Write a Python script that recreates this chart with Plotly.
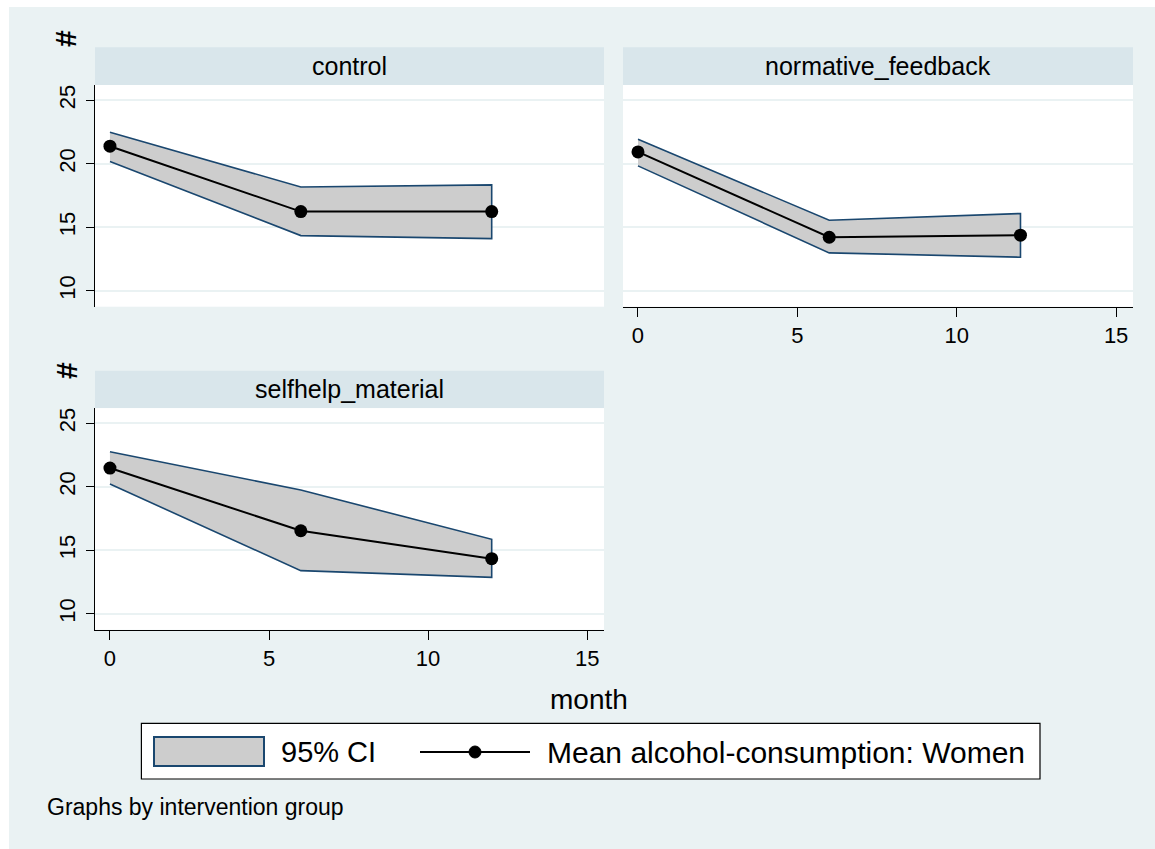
import plotly.graph_objects as go

W, H = 1155, 849

# ---- data ----
months = [0, 6, 12]
groups = ["control", "normative_feedback", "selfhelp_material"]
mean_control = [21.38, 16.23, 16.23]
upper_control = [22.48, 18.17, 18.33]
lower_control = [20.17, 14.34, 14.10]
mean_feedback = [20.93, 14.21, 14.37]
upper_feedback = [21.93, 15.55, 16.08]
lower_feedback = [19.83, 12.98, 12.64]
mean_selfhelp = [21.48, 16.54, 14.34]
upper_selfhelp = [22.76, 19.75, 15.87]
lower_selfhelp = [20.22, 13.40, 12.87]
y_ticks = [10, 15, 20, 25]
x_ticks = [0, 5, 10, 15]
legend_labels = ["95% CI", "Mean alcohol-consumption: Women"]
x_title = "month"
y_title = "#"
note = "Graphs by intervention group"

BG = "#EAF2F3"
STRIP = "#D9E6EB"
NAVY = "#1A476F"
FILLC = "#CDCDCD"
FONT = "Liberation Sans, Arial, sans-serif"


def px(x):
    return x / W


def py(y):
    return 1 - y / H


panels = [
    ("x", "y", mean_control, upper_control, lower_control),
    ("x2", "y2", mean_feedback, upper_feedback, lower_feedback),
    ("x3", "y3", mean_selfhelp, upper_selfhelp, lower_selfhelp),
]

fig = go.Figure()
for xa, ya, m, u, l in panels:
    fig.add_trace(go.Scatter(
        x=months + months[::-1], y=u + l[::-1], xaxis=xa, yaxis=ya,
        mode="lines", fill="toself", fillcolor=FILLC,
        line=dict(color=NAVY, width=1.6), showlegend=False, hoverinfo="skip"))
    fig.add_trace(go.Scatter(
        x=months, y=m, xaxis=xa, yaxis=ya, mode="lines+markers",
        line=dict(color="black", width=2), marker=dict(color="black", size=13),
        showlegend=False))

xr = [-0.47, 15.53]
yr = [8.74, 26.2]
top_dom = [py(306.7), py(85)]
bot_dom = [py(629.8), py(408.1)]
left_dom = [px(95), px(604)]
right_dom = [px(623), px(1133)]

yax_common = dict(range=yr, tickvals=y_ticks, showgrid=True, gridcolor=BG,
                  gridwidth=2, zeroline=False, fixedrange=True)
xax_common = dict(range=xr, tickvals=x_ticks, showgrid=False, zeroline=False,
                  fixedrange=True)
yax_lab = dict(ticks="outside", ticklen=8, tickwidth=1.2, tickcolor="black",
               showline=True, linecolor="black", linewidth=1.2, tickangle=-90,
               tickfont=dict(size=22, color="black", family=FONT),
               ticklabelstandoff=2)
xax_lab = dict(ticks="outside", ticklen=9, tickwidth=1.2, tickcolor="black",
               showline=True, linecolor="black", linewidth=1.2,
               tickfont=dict(size=22, color="black", family=FONT))

fig.update_layout(
    width=W, height=H, margin=dict(l=0, r=0, t=0, b=0),
    paper_bgcolor=BG, plot_bgcolor="white",
    font=dict(family=FONT, color="black"),
    xaxis=dict(domain=left_dom, anchor="y", showticklabels=False, ticks="",
               showline=False, **xax_common),
    yaxis=dict(domain=top_dom, anchor="x", **yax_common, **yax_lab),
    xaxis2=dict(domain=right_dom, anchor="y2", **xax_common, **xax_lab),
    yaxis2=dict(domain=top_dom, anchor="x2", showticklabels=False, ticks="",
                showline=False, **yax_common),
    xaxis3=dict(domain=left_dom, anchor="y3", **xax_common, **xax_lab),
    yaxis3=dict(domain=bot_dom, anchor="x3", **yax_common, **yax_lab),
)

shapes = []
# thin white outer margins at the left and top
shapes.append(dict(type="rect", xref="paper", yref="paper", x0=0, x1=px(9),
                   y0=0, y1=1, fillcolor="white", line=dict(width=0)))
shapes.append(dict(type="rect", xref="paper", yref="paper", x0=0, x1=1,
                   y0=py(7), y1=1, fillcolor="white", line=dict(width=0)))
# strips
strips = [(95, 604, 47.3, 85), (623, 1133, 47.3, 85), (95, 604, 370.7, 408.1)]
for (x0, x1, y0, y1) in strips:
    shapes.append(dict(type="rect", xref="paper", yref="paper", x0=px(x0),
                       x1=px(x1), y0=py(y1), y1=py(y0), fillcolor=STRIP,
                       line=dict(width=0)))
# legend box
shapes.append(dict(type="rect", xref="paper", yref="paper", x0=px(141.4),
                   x1=px(1040), y0=py(779), y1=py(723.3), fillcolor="white",
                   line=dict(color="black", width=1.2)))
shapes.append(dict(type="rect", xref="paper", yref="paper", x0=px(154),
                   x1=px(264), y0=py(766), y1=py(737), fillcolor=FILLC,
                   line=dict(color=NAVY, width=2)))
shapes.append(dict(type="line", xref="paper", yref="paper", x0=px(420),
                   x1=px(530), y0=py(752), y1=py(752),
                   line=dict(color="black", width=2)))
shapes.append(dict(type="circle", xref="paper", yref="paper", x0=px(469),
                   x1=px(481), y0=py(758), y1=py(746), fillcolor="black",
                   line=dict(color="black", width=1)))

annotations = []
strip_centers = [(349.5, 66), (878, 66), (349.5, 389.4)]
for name, (cx, cy) in zip(groups, strip_centers):
    annotations.append(dict(text=name, xref="paper", yref="paper", x=px(cx),
                            y=py(cy), showarrow=False, xanchor="center",
                            yanchor="middle", font=dict(size=25, family=FONT)))
for cy in (39, 371):
    annotations.append(dict(text="<b>" + y_title + "</b>", xref="paper",
                            yref="paper", x=px(66), y=py(cy), showarrow=False,
                            textangle=-90, xanchor="center", yanchor="middle",
                            font=dict(size=30, family=FONT)))
annotations.append(dict(text=x_title, xref="paper", yref="paper", x=px(589),
                        y=py(699), showarrow=False, xanchor="center",
                        yanchor="middle", font=dict(size=28, family=FONT)))
annotations.append(dict(text=legend_labels[0], xref="paper", yref="paper",
                        x=px(279), y=py(752), showarrow=False, xanchor="left",
                        yanchor="middle", font=dict(size=29, family=FONT)))
annotations.append(dict(text=legend_labels[1], xref="paper", yref="paper",
                        x=px(545), y=py(752), showarrow=False, xanchor="left",
                        yanchor="middle", font=dict(size=30, family=FONT)))
annotations.append(dict(text=note, xref="paper", yref="paper", x=px(45),
                        y=py(807), showarrow=False, xanchor="left",
                        yanchor="middle", font=dict(size=23, family=FONT)))

fig.update_layout(shapes=shapes, annotations=annotations)
fig.write_html(
    "out.html",
    config={"displayModeBar": False},
    post_script="document.body.style.margin='0px';"
                "document.body.style.overflow='hidden';",
)
